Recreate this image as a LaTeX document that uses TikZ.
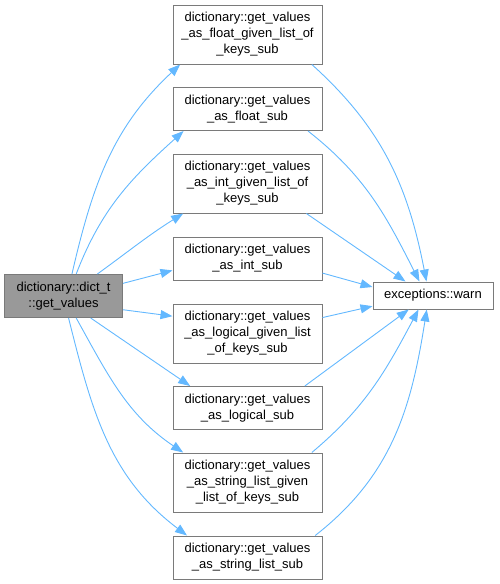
\documentclass[tikz,border=0pt]{standalone}
\usepackage{fontspec}
\setmainfont{Liberation Sans}
\usetikzlibrary{arrows.meta}
\definecolor{edgeblue}{HTML}{63B8FF}
\definecolor{boxgray}{HTML}{7A7A7A}
\definecolor{rootgray}{HTML}{999999}

\begin{document}
\begin{tikzpicture}[x=1pt, y=1pt,
  fn/.style={draw=boxgray, line width=1pt, fill=white, align=center,
    inner sep=1pt, minimum width=149pt, font=\fontsize{13}{16}\selectfont},
  call/.style={draw=edgeblue, line width=0.9pt,
    -{Triangle[length=12pt, width=9pt]}}]
  \useasboundingbox (0,0) rectangle (499,-584);
  % caller
  \node[fn, fill=rootgray, minimum width=118pt, minimum height=43pt]
    (root) at (63.5,-296) {dictionary::dict\_t\\::get\_values};
  % callees
  \node[fn, minimum height=59pt] (n1) at (247.5,-34.5)
    {dictionary::get\_values\\\_as\_float\_given\_list\_of\\\_keys\_sub};
  \node[fn, minimum height=43pt] (n2) at (247.5,-109)
    {dictionary::get\_values\\\_as\_float\_sub};
  \node[fn, minimum height=59pt] (n3) at (247.5,-183.5)
    {dictionary::get\_values\\\_as\_int\_given\_list\_of\\\_keys\_sub};
  \node[fn, minimum height=43pt] (n4) at (247.5,-258.5)
    {dictionary::get\_values\\\_as\_int\_sub};
  \node[fn, minimum height=59pt] (n5) at (247.5,-333.5)
    {dictionary::get\_values\\\_as\_logical\_given\_list\\\_of\_keys\_sub};
  \node[fn, minimum height=43pt] (n6) at (247.5,-408)
    {dictionary::get\_values\\\_as\_logical\_sub};
  \node[fn, minimum height=59pt] (n7) at (247.5,-482.5)
    {dictionary::get\_values\\\_as\_string\_list\_given\\\_list\_of\_keys\_sub};
  \node[fn, minimum height=43pt] (n8) at (247.5,-557.5)
    {dictionary::get\_values\\\_as\_string\_list\_sub};
  \node[fn, minimum width=120pt, minimum height=27pt] (warn) at (433,-295.5)
    {exceptions::warn};
  % caller -> callees
  \draw[call] (root.69) to[out=77, in=223] (n1.204);
  \draw[call] (root.60) to[out=69, in=222] (n2.199);
  \draw[call] (root.33) to[out=36, in=212] (n3.205);
  \draw[call] (root.12) -- (n4.189);
  \draw[call] (root.-13) -- (n5.167);
  \draw[call] (root.-39) -- (n6.159);
  \draw[call] (root.-60) to[out=-61, in=146] (n7.155);
  \draw[call] (root.-77) to[out=-76, in=143] (n8.160);
  % callees -> warn
  \draw[call] (n1.-25) to[out=-42, in=101] (warn.115);
  \draw[call] (n2.-20) to[out=-38, in=117] (warn.134);
  \draw[call] (n3.-27) -- (warn.153);
  \draw[call] (n4.-11) -- (warn.172);
  \draw[call] (n5.12) -- (warn.190);
  \draw[call] (n6.21) -- (warn.210);
  \draw[call] (n7.25) to[out=40, in=242] (warn.224);
  \draw[call] (n8.18) to[out=38, in=261] (warn.246);
\end{tikzpicture}
\end{document}
